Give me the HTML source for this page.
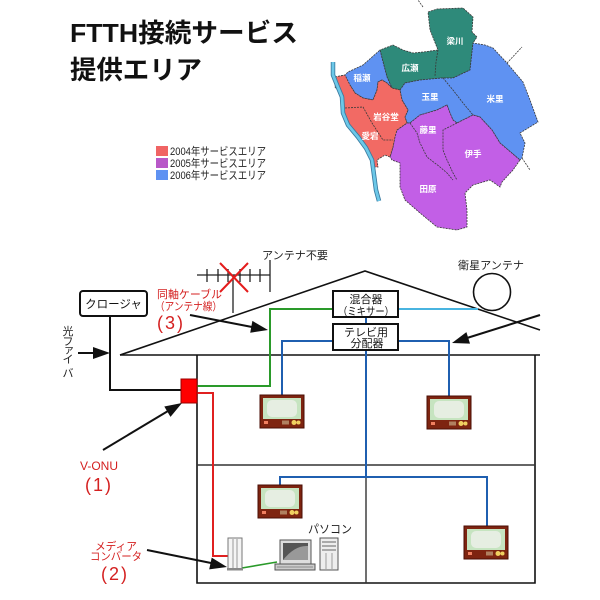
<!DOCTYPE html>
<html><head><meta charset="utf-8"><style>
html,body{margin:0;padding:0;background:#fff;}
svg{display:block;}
text{font-family:"Liberation Sans","Noto Sans CJK JP",sans-serif;}
</style></head><body>
<svg width="600" height="600" viewBox="0 0 600 600" xmlns="http://www.w3.org/2000/svg">
<defs>
<g id="tv">
 <rect x="0" y="0" width="44" height="33" fill="#7e2410" stroke="#4a0e04" stroke-width="1"/>
 <rect x="3" y="3" width="38" height="21" fill="#c6e4c0"/>
 <rect x="7" y="5" width="30" height="17" rx="5" fill="#e6eee2"/>
 <rect x="4" y="26" width="4" height="3" fill="#f08060"/>
 <rect x="22" y="25.5" width="7" height="4" fill="#b08060"/>
 <circle cx="34" cy="27.5" r="2.5" fill="#f0d060"/>
 <circle cx="38.5" cy="27.5" r="2" fill="#f0d060"/>
</g>
</defs>

<!-- Title -->
<text x="70" y="42" font-size="26" font-weight="bold" fill="#111" textLength="228" lengthAdjust="spacingAndGlyphs">FTTH接続サービス</text>
<text x="70" y="79" font-size="26" font-weight="bold" fill="#111" textLength="132" lengthAdjust="spacingAndGlyphs">提供エリア</text>

<!-- Legend -->
<rect x="156" y="146" width="12" height="10" fill="#f06464"/>
<rect x="156" y="158" width="12" height="10" fill="#b858c8"/>
<rect x="156" y="170" width="12" height="10" fill="#5f92f2"/>
<text x="170" y="155" font-size="11" fill="#222" textLength="96" lengthAdjust="spacingAndGlyphs">2004年サービスエリア</text>
<text x="170" y="167" font-size="11" fill="#222" textLength="96" lengthAdjust="spacingAndGlyphs">2005年サービスエリア</text>
<text x="170" y="179" font-size="11" fill="#222" textLength="96" lengthAdjust="spacingAndGlyphs">2006年サービスエリア</text>

<!-- Map -->
<g stroke="#3a3a3a" stroke-width="0.8" stroke-dasharray="2 1">
<polygon fill="#2e8a7a" points="428,12 437,9 463,8 473,17 472,32 477,37 473,43 470,70 453,78 442,78 420,80 405,83 400,90 392,88 387,77 382,58 380,50 393,45 403,50 413,53 423,52 438,50 430,30"/>
<polygon fill="#5f92f2" points="335,77 345,75 348,72 363,65 380,50 382,58 387,77 392,88 387,83 382,80 378,82 377,90 373,100 363,98 355,93 350,85"/>
<polygon fill="#5f92f2" points="400,90 405,83 420,80 442,78 453,78 470,70 473,43 485,45 493,48 507,63 523,82 530,100 538,122 520,133 525,143 522,158 520,160 500,143 492,130 480,117 473,115 457,123 453,120 450,113 447,105 437,110 420,115 410,123 407,123 405,117 408,110 402,100"/>
<polygon fill="#c25fe6" points="395,135 397,130 407,123 410,123 420,115 437,110 447,105 450,113 453,120 457,123 473,115 480,117 492,130 500,143 520,160 513,170 502,182 500,187 490,180 473,185 465,193 467,210 467,227 457,230 437,227 420,213 405,200 400,187 400,163 392,160 390,157 393,147"/>
<polygon fill="#f26a64" points="335,77 345,75 350,85 355,93 363,98 373,100 377,90 378,82 382,80 387,83 392,88 400,90 402,100 408,110 405,117 407,123 397,130 395,137 393,147 390,157 385,155 377,160 378,167 373,167 372,157 365,147 357,137 348,127 343,117 343,103 340,93 335,87"/>
<g fill="none">
<polyline points="438,50 436,62 435,76"/>
<polyline points="443,78 453,90 463,103 473,115"/>
<polyline points="410,123 417,133 420,143 427,157 440,167 447,173 453,180"/>
<polyline points="457,123 443,130 443,137 443,150 447,160 453,173 457,180"/>
<polyline points="345,108 363,107 372,123 383,140 393,140"/>
<polyline points="423,7 418,0"/>
<polyline points="507,63 522,47"/>
<polyline points="522,158 530,170"/>
</g>
</g>
<!-- river -->
<polyline points="333,62 333,75 337,85 342,97 343,113 348,125 358,137 366,148 372,160 374,175 376,190 379,201" fill="none" stroke="#3a7aa0" stroke-width="4.5" stroke-linejoin="round"/>
<polyline points="333,62 333,75 337,85 342,97 343,113 348,125 358,137 366,148 372,160 374,175 376,190 379,201" fill="none" stroke="#6cc8e8" stroke-width="2.8" stroke-linejoin="round"/>
<g font-size="8.5" font-weight="bold" fill="#fff" text-anchor="middle">
<text x="362" y="81">稲瀬</text>
<text x="410" y="71">広瀬</text>
<text x="455" y="44">梁川</text>
<text x="430" y="100">玉里</text>
<text x="495" y="102">米里</text>
<text x="386" y="120">岩谷堂</text>
<text x="370" y="139">愛宕</text>
<text x="428" y="133">藤里</text>
<text x="473" y="157">伊手</text>
<text x="428" y="192">田原</text>
</g>

<!-- House -->
<g stroke="#111" fill="none" stroke-width="1.6">
<polyline points="120,355 365,271 540,330"/>
<line x1="120" y1="355" x2="540" y2="355"/>
<polyline points="197,355 197,583 535,583 535,355"/>
</g>
<g stroke="#333" stroke-width="1.4">
<line x1="197" y1="465" x2="535" y2="465"/>
<line x1="366" y1="465" x2="366" y2="583"/>
</g>

<!-- Antenna -->
<g stroke="#222" stroke-width="1.3">
<line x1="197" y1="275" x2="270" y2="275"/>
<line x1="207" y1="269" x2="207" y2="282"/>
<line x1="218" y1="269" x2="218" y2="282"/>
<line x1="228" y1="269" x2="228" y2="282"/>
<line x1="240" y1="269" x2="240" y2="282"/>
<line x1="250" y1="269" x2="250" y2="282"/>
<line x1="260" y1="269" x2="260" y2="282"/>
<line x1="270" y1="260" x2="270" y2="292"/>
<line x1="233" y1="275" x2="233" y2="313"/>
</g>
<g stroke="#e41c1c" stroke-width="2">
<line x1="220" y1="263" x2="248" y2="292"/>
<line x1="248" y1="263" x2="220" y2="292"/>
</g>
<text x="262" y="259" font-size="11" fill="#222" textLength="66" lengthAdjust="spacingAndGlyphs">アンテナ不要</text>

<!-- Satellite -->
<circle cx="492" cy="292" r="18.5" fill="none" stroke="#111" stroke-width="1.6"/>
<text x="458" y="269" font-size="11" fill="#222" textLength="66" lengthAdjust="spacingAndGlyphs">衛星アンテナ</text>

<!-- Closure -->
<rect x="80" y="291" width="67" height="25" rx="3" fill="#fff" stroke="#111" stroke-width="2"/>
<text x="113.5" y="308" font-size="11.5" fill="#111" text-anchor="middle">クロージャ</text>
<polyline points="110,316 110,390 182,390" fill="none" stroke="#111" stroke-width="2"/>

<!-- fiber label -->
<g font-size="11" fill="#222" text-anchor="middle">
<text x="68" y="335">光</text>
<text x="68" y="345">フ</text>
<text x="69" y="353">ァ</text>
<text x="68" y="363">イ</text>
<text x="68" y="377">バ</text>
</g>

<!-- Connectors -->
<polyline points="197,386 270,386 270,309 333,309" fill="none" stroke="#2a9a2a" stroke-width="2"/>
<line x1="398" y1="309" x2="478" y2="309" stroke="#48b4e0" stroke-width="2"/>
<polyline points="197,393 213,393 213,556 228,556" fill="none" stroke="#e02020" stroke-width="2"/>
<g fill="none" stroke="#1f5fb0" stroke-width="2">
<polyline points="333,341 282,341 282,396"/>
<polyline points="398,341 449,341 449,397"/>
<line x1="366" y1="317" x2="366" y2="324"/>
<polyline points="366,350 366,477"/>
<polyline points="280,486 280,477 487,477 487,527"/>
</g>
<line x1="242" y1="568" x2="277" y2="562" stroke="#2a9a2a" stroke-width="1.6"/>

<!-- Mixer / Distributor -->
<rect x="333" y="291" width="65" height="26" fill="#fff" stroke="#111" stroke-width="2"/>
<text x="366" y="303" font-size="11" fill="#111" text-anchor="middle">混合器</text>
<text x="366" y="315" font-size="11" fill="#111" text-anchor="middle" textLength="56" lengthAdjust="spacingAndGlyphs">（ミキサー）</text>
<rect x="333" y="324" width="65" height="26" fill="#fff" stroke="#111" stroke-width="2"/>
<text x="366" y="336" font-size="11" fill="#111" text-anchor="middle">テレビ用</text>
<text x="367" y="347" font-size="11" fill="#111" text-anchor="middle">分配器</text>

<!-- V-ONU -->
<rect x="181" y="379" width="16" height="24" fill="#f00" stroke="#900" stroke-width="1"/>

<!-- TVs -->
<use href="#tv" x="260" y="395"/>
<use href="#tv" x="427" y="396"/>
<use href="#tv" x="258" y="485"/>
<use href="#tv" x="464" y="526"/>

<!-- Media converter -->
<rect x="228" y="538" width="14" height="31" fill="#f4f4f4" stroke="#777" stroke-width="1"/>
<line x1="233" y1="539" x2="233" y2="568" stroke="#999" stroke-width="1"/>
<line x1="237" y1="539" x2="237" y2="568" stroke="#999" stroke-width="1"/>
<rect x="227" y="568" width="16" height="2.5" fill="#888"/>

<!-- Computer -->
<rect x="280" y="540" width="31" height="24" fill="#ddd" stroke="#555" stroke-width="1"/>
<rect x="283" y="543" width="25" height="17" fill="#555"/>
<path d="M283,560 Q295,545 308,546 L308,560 Z" fill="#999"/>
<rect x="275" y="564" width="40" height="6" fill="#ccc" stroke="#555" stroke-width="1"/>
<line x1="277" y1="567" x2="313" y2="567" stroke="#777" stroke-width="0.8"/>
<rect x="320" y="538" width="18" height="32" fill="#eee" stroke="#555" stroke-width="1"/>
<line x1="322" y1="542" x2="336" y2="542" stroke="#666" stroke-width="1"/>
<line x1="322" y1="546" x2="336" y2="546" stroke="#666" stroke-width="1"/>
<line x1="322" y1="550" x2="336" y2="550" stroke="#666" stroke-width="1"/>
<line x1="326" y1="553" x2="326" y2="569" stroke="#888" stroke-width="0.8"/>
<line x1="332" y1="553" x2="332" y2="569" stroke="#888" stroke-width="0.8"/>
<text x="308" y="533" font-size="11.5" fill="#222" textLength="44" lengthAdjust="spacingAndGlyphs">パソコン</text>

<!-- Red labels -->
<g fill="#d42020">
<text x="157" y="298" font-size="11" textLength="65" lengthAdjust="spacingAndGlyphs">同軸ケーブル</text>
<text x="155" y="310" font-size="11" textLength="67" lengthAdjust="spacingAndGlyphs">（アンテナ線）</text>
<text x="157" y="329" font-size="18" letter-spacing="2">(3)</text>
<text x="80" y="470" font-size="12" textLength="38" lengthAdjust="spacingAndGlyphs">V-ONU</text>
<text x="85" y="491" font-size="18" letter-spacing="2">(1)</text>
<text x="95" y="550" font-size="11" textLength="42" lengthAdjust="spacingAndGlyphs">メディア</text>
<text x="90" y="560" font-size="11" textLength="52" lengthAdjust="spacingAndGlyphs">コンバータ</text>
<text x="101" y="580" font-size="18" letter-spacing="2">(2)</text>
</g>

<!-- Arrows -->
<g stroke="#111" stroke-width="2">
<line x1="78" y1="353" x2="95" y2="353"/>
<line x1="190" y1="315" x2="252" y2="327"/>
<line x1="540" y1="315" x2="467" y2="338"/>
<line x1="103" y1="450" x2="168" y2="411"/>
<line x1="147" y1="550" x2="211" y2="563"/>
</g>
<g fill="#111">
<polygon points="110,353 93,347 93,359"/>
<polygon points="268,330 250.2,332.7 252.4,320.9"/>
<polygon points="452,343 466.4,332.1 470,343.6"/>
<polygon points="182,403 170.5,416.9 164.3,406.5"/>
<polygon points="227,567 209.2,569.4 211.7,557.6"/>
</g>
</svg>
</body></html>
